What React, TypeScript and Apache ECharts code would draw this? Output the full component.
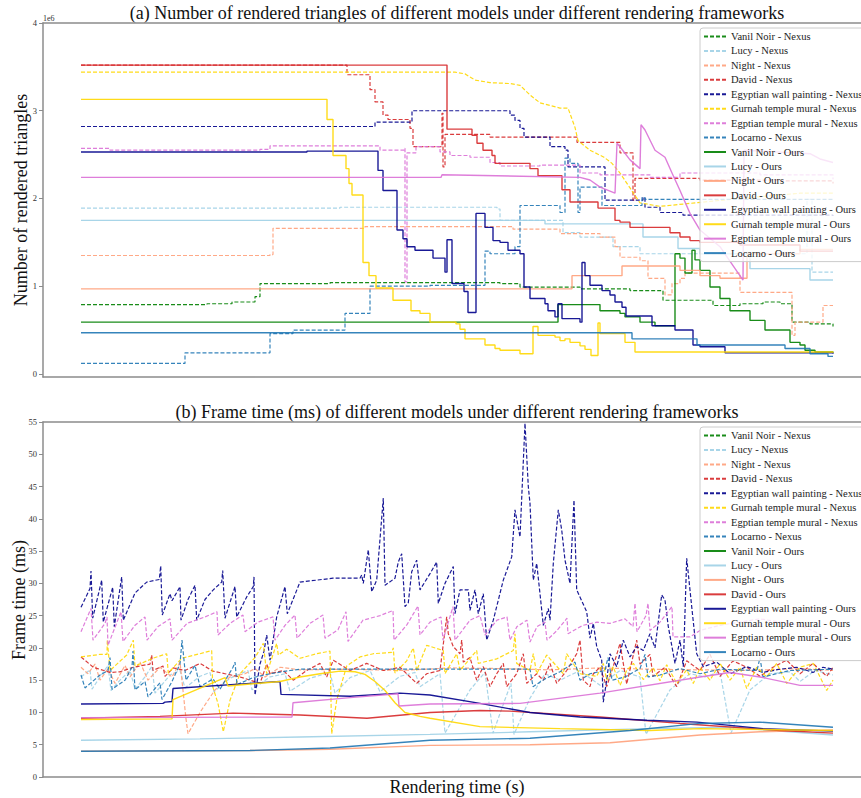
import React, { useEffect, useRef } from 'react';
import * as echarts from 'echarts';

type P = [number, number][];

// x: elapsed rendering time (0.1 s units from start), y: rendered triangles (millions)
const triVanilNexus: P = [[0,0.79],[126,0.80],[151,0.82],[174,0.88],[179,1.03],[249,1.04],[419,1.03],[439,0.99],[499,0.97],[549,0.95],[582,0.84],[632,0.78],[659,0.80],[682,0.82],[699,0.80],[711,0.59],[729,0.57],[752,0.54]];
const triLucyNexus: P = [[0,1.89],[259,1.90],[416,1.88],[419,1.75],[482,1.61],[499,1.56],[532,1.45],[559,1.37],[719,1.37],[726,1.99],[731,1.16],[752,1.16]];
const triNightNexus: P = [[0,1.35],[189,1.36],[192,1.66],[284,1.68],[432,1.65],[479,1.60],[519,1.56],[534,1.45],[539,1.33],[559,1.29],[567,1.09],[584,0.90],[591,1.03],[599,1.09],[604,1.15],[659,0.93],[711,0.44],[714,0.59],[742,0.78],[752,0.78]];
const triDavidNexus: P = [[0,3.52],[266,3.41],[289,3.24],[294,3.10],[302,2.95],[307,2.90],[329,2.80],[332,2.59],[361,2.97],[362,2.36],[364,2.73],[409,2.70],[496,2.64],[539,2.52],[552,1.98],[554,2.23],[619,2.21],[699,2.20],[752,2.17]];
const triWallNexus: P = [[0,2.82],[294,2.87],[331,3.00],[429,2.95],[434,2.89],[439,2.80],[443,2.70],[469,2.59],[484,2.55],[487,2.36],[524,1.98],[562,2.01],[564,1.90],[579,1.84],[602,1.81],[752,1.80]];
const triGurnahNexus: P = [[0,3.44],[374,3.44],[384,3.42],[394,3.35],[409,3.32],[429,3.31],[439,3.29],[449,3.18],[459,3.09],[479,3.03],[487,3.03],[494,2.81],[497,2.66],[509,2.55],[523,2.47],[531,2.40],[539,2.29],[549,2.12],[559,1.95],[579,1.91],[659,2.00],[719,2.06],[752,2.06]];
const triTempleNexus: P = [[0,2.57],[29,2.55],[179,2.56],[189,2.60],[269,2.60],[299,2.55],[323,2.57],[324,1.05],[326,2.52],[335,2.59],[359,2.53],[369,2.49],[389,2.47],[409,2.41],[419,2.37],[459,2.38],[499,2.29],[519,2.27],[569,2.24],[599,2.29],[679,2.27],[752,2.22]];
const triLocarnoNexus: P = [[0,0.12],[104,0.24],[189,0.46],[212,0.50],[264,0.69],[289,1.00],[349,1.01],[404,1.40],[409,1.37],[434,1.45],[439,1.92],[479,1.84],[484,2.46],[489,2.40],[497,1.84],[499,2.13],[521,1.92],[561,2.01],[564,1.99],[752,1.99]];

const triVanilOurs: P = [[0,0.59],[477,0.79],[519,0.72],[539,0.69],[544,0.65],[559,0.59],[574,0.55],[594,1.37],[599,1.32],[604,1.15],[611,1.41],[614,1.30],[619,1.18],[629,0.99],[639,0.86],[649,0.72],[669,0.61],[684,0.50],[709,0.36],[719,0.33],[724,0.27],[734,0.25],[752,0.24]];
const triLucyOurs: P = [[0,1.75],[464,1.71],[562,1.56],[597,1.43],[619,1.37],[669,1.20],[729,1.07],[752,1.07]];
const triNightOurs: P = [[0,0.97],[491,1.12],[541,1.23],[599,1.18],[619,1.12],[639,1.09],[666,1.37],[719,1.42],[752,1.42]];
const triDavidOurs: P = [[0,3.52],[366,2.79],[391,2.72],[396,2.63],[402,2.55],[411,2.49],[414,2.40],[449,2.34],[457,2.26],[481,2.10],[489,1.96],[517,1.89],[534,1.75],[539,1.73],[549,1.67],[589,1.61],[599,1.56],[609,1.52],[619,1.50],[659,1.47],[719,1.40],[752,1.40]];
const triWallOurs: P = [[0,2.53],[226,2.54],[297,2.32],[302,2.09],[316,1.64],[322,1.54],[326,1.45],[334,1.41],[352,1.32],[364,1.16],[366,1.53],[371,1.03],[383,0.94],[387,0.70],[395,1.83],[404,1.67],[412,1.52],[419,1.50],[427,1.41],[439,1.37],[443,0.99],[449,0.86],[464,0.80],[467,0.72],[474,0.65],[477,0.80],[481,0.63],[499,0.59],[501,1.27],[504,1.12],[509,1.01],[521,0.95],[529,0.90],[534,0.82],[541,0.76],[545,0.66],[571,0.55],[594,0.50],[612,0.33],[619,0.31],[644,0.24],[752,0.23]];
const triGurnahOurs: P = [[0,3.13],[246,2.90],[252,2.49],[265,2.34],[268,2.17],[271,2.04],[282,1.27],[288,1.12],[295,0.98],[312,0.84],[330,0.72],[339,0.69],[349,0.59],[375,0.57],[379,0.51],[384,0.40],[404,0.33],[414,0.29],[419,0.27],[439,0.23],[452,0.54],[457,0.44],[474,0.42],[479,0.38],[484,0.40],[489,0.36],[499,0.32],[504,0.28],[510,0.21],[517,0.58],[519,0.46],[544,0.36],[554,0.25],[752,0.24]];
const triTempleOurs: P = [[0,2.24],[360,2.24],[361,2.27],[499,2.24],[509,2.21],[519,2.13],[534,2.06],[536,2.63],[539,2.59],[549,2.44],[559,2.34],[560,2.84],[564,2.78],[574,2.55],[584,2.47],[591,2.29],[599,2.09],[609,1.83],[619,1.64],[639,1.45],[662,1.07],[663,2.55],[729,2.51],[739,2.45],[752,2.41]];
const triLocarnoOurs: P = [[0,0.47],[551,0.40],[616,0.33],[704,0.29],[729,0.23],[747,0.20],[752,0.20]];

// frame time (ms); Vanil Noir has no visible frame-time trace in the reference
const ftVanilNexus: P = [];
const ftLucyNexus: P = [[0,15.5],[9,16.6],[11,13.6],[19,15.5],[27,17.3],[30,13.4],[39,15.0],[49,16.5],[54,13.6],[64,15.5],[71,17.2],[74,13.0],[89,15.8],[99,16.5],[104,13.8],[119,15.6],[129,16.2],[133,13.2],[149,15.3],[167,16.5],[171,13.5],[189,15.5],[204,16.0],[209,13.3],[229,15.3],[249,16.2],[254,13.0],[269,15.4],[289,16.5],[299,13.2],[319,15.6],[334,16.2],[339,14.0],[359,16.0],[364,6.8],[389,13.5],[404,16.2],[412,6.8],[424,12.0],[430,14.5],[433,6.6],[449,12.2],[464,16.0],[479,15.0],[499,16.5],[519,14.2],[539,16.5],[559,15.5],[565,6.6],[589,13.5],[609,16.0],[624,15.5],[639,16.3],[650,6.8],[669,13.5],[689,16.0],[709,16.3],[719,14.8],[734,16.5],[752,15.8]];
const ftNightNexus: P = [[0,17.0],[7,16.0],[14,17.5],[19,15.0],[27,16.8],[34,14.5],[44,17.3],[49,15.5],[59,17.8],[67,15.0],[79,17.0],[91,15.5],[99,17.8],[105,9.0],[107,6.7],[119,10.0],[134,13.5],[149,15.5],[164,16.0],[174,16.8],[184,15.5],[199,17.0],[219,16.6],[269,16.7],[319,16.5],[369,16.9],[419,16.8],[469,16.6],[519,16.9],[569,16.7],[619,16.6],[669,16.5],[719,16.8],[752,16.5]];
const ftDavidNexus: P = [[0,18.6],[12.3,17.0],[29,16.2],[39,16.3],[52.3,17.0],[69,17.5],[70.7,18.9],[72,16.5],[82,17.2],[84,15.6],[92.3,16.9],[104,16.5],[119,17.6],[132,16.4],[144,16.0],[159,15.5],[179,14.5],[185.7,17.5],[189,16.0],[202.3,16.5],[212.3,15.0],[225.7,16.5],[239,17.6],[245.7,15.5],[252.3,18.1],[269,16.5],[285.7,17.6],[302.3,16.5],[319,17.0],[335.7,14.5],[345.7,16.0],[359,16.5],[365.7,24.8],[367.3,22.2],[372.3,20.2],[379,19.1],[380.7,21.2],[382.3,17.8],[389,18.5],[395.7,15.0],[402.3,17.1],[409,14.0],[415.7,16.0],[422.3,17.6],[425.7,14.0],[435.7,16.0],[442.3,19.1],[445.7,14.5],[455.7,16.0],[462.3,15.0],[469,17.6],[475.7,14.5],[485.7,16.5],[495.7,19.1],[499,21.2],[502.3,15.0],[509,14.0],[512.3,16.0],[519,17.0],[525.7,14.0],[532,17.0],[539,20.7],[545.7,14.4],[555.7,21.2],[559,17.5],[569,19.0],[572,15.6],[584,17.0],[595.7,14.0],[605.7,18.0],[619,16.5],[629,19.0],[639,15.6],[652,18.0],[665.7,17.0],[679,15.6],[692,17.0],[705.7,18.1],[719,16.0],[732,17.6],[745.7,15.6],[752,17.0]];
const ftWallNexus: P = [[0,26.3],[9,29.2],[10,31.9],[11.7,24.6],[20.7,30.5],[22.3,24.0],[31.7,29.4],[33.3,23.3],[40.7,31.0],[42.3,24.3],[54,28.5],[65.7,30.2],[78.3,30.6],[79.7,32.7],[81.3,25.1],[89,28.4],[91,27.3],[99,29.5],[100,24.3],[107,27.5],[114,29.7],[115.7,24.3],[124,27.5],[132.3,29.0],[140.7,30.2],[141.7,32.0],[144,24.6],[154,29.5],[155.7,24.8],[165.7,27.9],[172.3,29.5],[173,31.0],[174,12.7],[179,17.5],[183,19.5],[185.7,22.0],[189,18.1],[195.7,24.8],[204,29.5],[206.3,25.3],[219,30.2],[252,30.8],[279,30.8],[280.7,31.3],[282.3,30.0],[287.3,35.2],[290.7,28.7],[295.7,30.5],[302.3,43.2],[304,29.7],[314,30.8],[317.3,33.3],[320.7,34.6],[324,26.4],[327.3,27.0],[330.7,31.8],[335.7,33.6],[339,29.0],[349,31.5],[355.7,33.3],[357.3,26.9],[364,30.0],[372.3,32.6],[374,25.3],[379,29.0],[387.3,29.0],[389,25.8],[394,29.0],[397.3,25.3],[402.3,28.4],[405.7,21.2],[412.3,24.3],[422.3,30.5],[430.7,34.1],[434,41.4],[439,37.2],[444,54.8],[447.3,45.0],[449,42.4],[452.3,30.5],[455.7,33.1],[459,28.4],[462.3,23.5],[467.3,26.1],[469,24.3],[472.3,33.1],[477.3,41.4],[480.7,38.3],[484,33.6],[489,30.0],[493,42.9],[495.7,29.0],[505.7,25.6],[509,21.5],[512.3,23.8],[515.7,20.2],[520.7,18.1],[522.3,11.6],[525.7,15.0],[529,19.1],[535.7,17.1],[542.3,21.2],[549,18.6],[555.7,20.2],[562.3,19.6],[569,22.2],[574,20.0],[580.7,28.2],[584,27.4],[587.3,23.3],[594,17.6],[599,21.2],[602.3,17.1],[605.7,33.9],[610.7,26.4],[615.7,19.1],[622.3,17.1],[635.7,17.8],[649,16.0],[665.7,17.1],[682,16.2],[699,16.7],[715.7,17.0],[732,16.2],[742,17.0],[752,16.7]];
const ftGurnahNexus: P = [[0,18.6],[19,19.0],[26,19.0],[26.3,21.2],[29,16.5],[45.7,18.9],[52.3,21.2],[54,17.2],[72,18.4],[85.7,19.1],[87.3,16.1],[100.7,18.4],[119,19.1],[130.7,19.6],[131.7,14.0],[137,11.4],[142.3,7.0],[149,11.9],[159,16.0],[174,18.5],[182.3,20.7],[185.7,16.0],[195.7,20.7],[197.3,18.9],[205.7,19.8],[219,18.4],[235.7,19.1],[249,19.5],[250.7,6.7],[255.7,11.9],[265.7,17.2],[279,18.6],[292.3,19.1],[310.7,19.3],[312.3,20.0],[314,16.1],[325.7,18.0],[332.3,20.0],[335.7,16.5],[345.7,20.4],[362.3,19.6],[364,16.0],[375.7,19.1],[379,16.5],[395.7,19.6],[397.3,17.6],[415.7,18.3],[432.3,19.6],[434,22.2],[435.7,17.6],[449,16.5],[452.3,19.1],[455.7,16.0],[465.7,18.9],[482.3,16.0],[485.7,19.1],[499,16.0],[515.7,15.6],[522.3,17.6],[525.7,15.0],[532.3,17.1],[539,14.2],[545.7,16.5],[552.3,17.6],[562.3,15.1],[572,16.9],[579,14.9],[585.7,17.4],[595.7,14.5],[605.7,16.6],[612.3,14.5],[619,16.9],[629,15.0],[639,17.6],[649,15.0],[659,17.0],[665.7,13.7],[675.7,17.0],[685.7,15.5],[695.7,17.6],[705.7,14.5],[719,17.0],[732.3,17.6],[745.7,13.4],[752,15.0]];
const ftTempleNexus: P = [[0,22.5],[10,26.1],[12,21.2],[24,23.8],[26,24.8],[27,20.4],[40,25.6],[42,21.0],[54,23.5],[64,24.8],[66,21.2],[77,23.3],[89,24.5],[91,21.2],[106,23.8],[124,24.8],[136,25.6],[137,22.0],[149,23.8],[162,25.1],[164,22.5],[177,24.0],[192,24.8],[194,21.2],[204,23.5],[214,25.1],[216,21.5],[229,23.8],[242,25.1],[244,21.5],[257,22.8],[265,25.6],[267,21.0],[282,24.3],[299,25.0],[312,25.8],[313,21.2],[326,23.6],[337,26.5],[339,22.0],[349,24.0],[360,24.8],[362,21.2],[372,26.4],[374,21.2],[389,24.3],[399,25.0],[404,22.0],[416,24.3],[426,24.8],[429,21.2],[436,23.3],[446,24.3],[449,20.9],[456,23.3],[464,24.0],[466,21.2],[476,22.7],[486,24.6],[487,22.2],[502,23.5],[516,24.0],[529,23.8],[544,24.5],[552,23.3],[554,26.9],[556,22.5],[565,25.0],[567,26.9],[569,22.7],[579,24.0],[591,26.4],[592,21.7],[609,21.7],[619,22.7],[639,23.5],[659,24.0],[679,24.5],[699,24.0],[719,23.5],[734,22.5],[752,21.0]];
const ftLocarnoNexus: P = [[0,15.8],[4,13.8],[19,15.8],[27,16.5],[29,18.5],[31,13.6],[44,15.0],[51,17.0],[52,19.5],[54,13.5],[64,14.8],[67,12.4],[79,14.6],[81,12.0],[91,14.8],[99,17.5],[101,21.2],[105,15.0],[114,17.3],[119,14.0],[132,15.2],[139,13.6],[152,17.0],[154,17.8],[156,14.3],[172,15.4],[189,16.0],[209,16.5],[219,16.7],[449,16.7],[452,14.0],[464,15.2],[479,16.3],[494,17.8],[499,15.0],[509,16.0],[524,16.5],[527,18.5],[531,15.0],[544,15.5],[559,16.8],[564,19.0],[567,15.5],[579,15.8],[599,16.8],[619,16.0],[639,16.7],[676,16.5],[679,18.5],[682,15.5],[709,16.5],[752,16.7]];

const ftVanilOurs: P = [];
const ftLucyOurs: P = [[0,5.7],[119,5.9],[219,6.2],[349,6.6],[449,7.0],[569,7.5],[649,7.7],[752,6.5]];
const ftNightOurs: P = [[0,4.0],[169,4.1],[249,4.3],[349,4.9],[449,5.0],[529,5.3],[619,6.5],[679,7.0],[752,7.3]];
const ftDavidOurs: P = [[0,9.1],[79,9.4],[152,9.9],[219,9.6],[286,9.1],[349,10.0],[399,10.3],[429,10.2],[519,9.3],[599,8.3],[699,7.2],[752,6.8]];
const ftWallOurs: P = [[0,11.3],[82,11.4],[84,11.6],[91,11.7],[92,13.7],[169,14.5],[199,14.8],[200,12.8],[269,12.5],[319,13.0],[349,12.7],[399,11.4],[449,10.0],[499,9.3],[566,8.8],[616,8.5],[649,8.0],[682,7.5],[752,7.1]];
const ftGurnahOurs: P = [[0,8.9],[91,9.0],[92,12.0],[144,15.4],[147,14.1],[199,14.8],[219,15.5],[239,16.0],[259,16.4],[274,16.3],[284,15.9],[294,14.8],[304,13.4],[314,11.5],[324,10.0],[339,9.4],[349,9.1],[399,7.8],[479,7.5],[569,7.2],[619,7.5],[752,7.2]];
const ftTempleOurs: P = [[0,9.2],[211,9.3],[212,11.5],[269,12.3],[317,12.9],[318,11.0],[349,11.3],[439,11.4],[519,13.0],[619,15.5],[649,16.2],[679,15.5],[719,14.2],[752,14.2]];
const ftLocarnoOurs: P = [[0,4.0],[169,4.1],[249,4.5],[349,5.7],[449,6.0],[549,7.2],[619,8.3],[679,8.5],[752,7.7]];

const MODELS = ['Vanil Noir', 'Lucy', 'Night', 'David', 'Egyptian wall painting', 'Gurnah temple mural', 'Egptian temple mural', 'Locarno'];
const COLORS = ['#008000', '#9fd0e6', '#ffa07a', '#d62728', '#00008b', '#ffd700', '#da70d6', '#1f77b4'];
const TRI_TICKS = [0, 1, 2, 3, 4];

const triNexus = [triVanilNexus, triLucyNexus, triNightNexus, triDavidNexus, triWallNexus, triGurnahNexus, triTempleNexus, triLocarnoNexus];
const triOurs = [triVanilOurs, triLucyOurs, triNightOurs, triDavidOurs, triWallOurs, triGurnahOurs, triTempleOurs, triLocarnoOurs];
const triNexusStep = [true, true, true, true, true, false, true, true];
const triOursStep = [true, true, true, true, true, true, false, true];
const ftNexus = [ftVanilNexus, ftLucyNexus, ftNightNexus, ftDavidNexus, ftWallNexus, ftGurnahNexus, ftTempleNexus, ftLocarnoNexus];
const ftOurs = [ftVanilOurs, ftLucyOurs, ftNightOurs, ftDavidOurs, ftWallOurs, ftGurnahOurs, ftTempleOurs, ftLocarnoOurs];

const FONT = 'Liberation Serif';

export default function App() {
  const ref = useRef<HTMLDivElement>(null);
  useEffect(() => {
    document.body.style.margin = '0';
    if (!ref.current) return;
    const chart = echarts.init(ref.current, undefined, { renderer: 'svg' });
    const names: string[] = [];
    MODELS.forEach((m) => names.push(`${m} - Nexus`));
    MODELS.forEach((m) => names.push(`${m} - Ours`));

    const series: any[] = [];
    const add = (grid: number, data: P, i: number, nexus: boolean, step: boolean) => {
      series.push({
        name: `${MODELS[i]} - ${nexus ? 'Nexus' : 'Ours'}`,
        type: 'line',
        xAxisIndex: grid === 0 ? 0 : 2,
        yAxisIndex: grid,
        data,
        symbol: 'none',
        showSymbol: false,
        step: step ? 'end' : false,
        lineStyle: { color: COLORS[i], width: nexus ? 1.2 : 1.4, type: nexus ? [4, 2] : 'solid', opacity: 0.9 },
        itemStyle: { color: COLORS[i] },
        emphasis: { disabled: true },
        silent: true,
      });
    };
    triNexus.forEach((d, i) => add(0, d, i, true, triNexusStep[i]));
    triOurs.forEach((d, i) => add(0, d, i, false, triOursStep[i]));
    ftNexus.forEach((d, i) => add(1, d, i, true, false));
    ftOurs.forEach((d, i) => add(1, d, i, false, false));

    const spine = { show: true, lineStyle: { color: '#8c8c8c', width: 1.5 } };
    const xBase = (gridIndex: number, position: 'bottom' | 'top') => ({
      type: 'value', gridIndex, position, min: -38, max: 780,
      axisLine: { ...spine, onZero: false }, axisTick: { show: false }, axisLabel: { show: false }, splitLine: { show: false },
    });
    const labelStyle = { fontFamily: FONT, fontSize: 8.5, color: '#333', margin: 6 };

    const legendBase = {
      data: names,
      orient: 'vertical',
      left: 700,
      itemWidth: 22,
      itemHeight: 10,
      itemGap: 3.44,
      padding: [3, 6, 3, 3],
      backgroundColor: 'rgba(255,255,255,0.8)',
      borderColor: '#cccccc',
      borderWidth: 1,
      borderRadius: 3,
      selectedMode: false,
      itemStyle: { color: 'rgba(0,0,0,0)', borderWidth: 0, opacity: 0 },
      textStyle: { fontFamily: FONT, fontSize: 10.5, color: '#222', lineHeight: 10 },
    };

    chart.setOption({
      animation: false,
      grid: [
        { left: 43, right: 0, top: 23, height: 354 },
        { left: 43, right: 0, top: 422, height: 355 },
      ],
      xAxis: [xBase(0, 'bottom'), xBase(0, 'top'), xBase(1, 'bottom'), xBase(1, 'top')],
      yAxis: [
        {
          type: 'value', gridIndex: 0, min: -0.035, max: 4,
          axisLine: { ...spine, onZero: false },
          axisTick: { show: true, length: 4, lineStyle: { color: '#8c8c8c' }, customValues: TRI_TICKS },
          axisLabel: { ...labelStyle, customValues: TRI_TICKS },
          splitLine: { show: false },
        },
        {
          type: 'value', gridIndex: 1, min: 0, max: 55, interval: 5,
          axisLine: { ...spine, onZero: false },
          axisTick: { show: true, length: 4, lineStyle: { color: '#8c8c8c' } },
          axisLabel: labelStyle,
          splitLine: { show: false },
        },
      ],
      legend: [
        { ...legendBase, top: 28 },
        { ...legendBase, top: 427 },
      ],
      graphic: [
        { type: 'text', x: 457, y: 13, style: { text: '(a) Number of rendered triangles of different models under different rendering frameworks', fontFamily: FONT, fontSize: 18, fill: '#111', align: 'center', verticalAlign: 'middle' } },
        { type: 'text', x: 43, y: 18, style: { text: '1e6', fontFamily: FONT, fontSize: 8, fill: '#333', align: 'left', verticalAlign: 'middle' } },
        { type: 'text', x: 21, y: 200, rotation: Math.PI / 2, style: { text: 'Number of rendered triangles', fontFamily: FONT, fontSize: 18, fill: '#111', align: 'center', verticalAlign: 'middle' } },
        { type: 'text', x: 457, y: 412, style: { text: '(b) Frame time (ms) of different models under different rendering frameworks', fontFamily: FONT, fontSize: 18, fill: '#111', align: 'center', verticalAlign: 'middle' } },
        { type: 'text', x: 19, y: 600, rotation: Math.PI / 2, style: { text: 'Frame time (ms)', fontFamily: FONT, fontSize: 18, fill: '#111', align: 'center', verticalAlign: 'middle' } },
        { type: 'text', x: 457, y: 787, style: { text: 'Rendering time (s)', fontFamily: FONT, fontSize: 18, fill: '#111', align: 'center', verticalAlign: 'middle' } },
      ],
      series,
    });
    return () => chart.dispose();
  }, []);
  return <div ref={ref} style={{ width: 861, height: 798 }} />;
}
